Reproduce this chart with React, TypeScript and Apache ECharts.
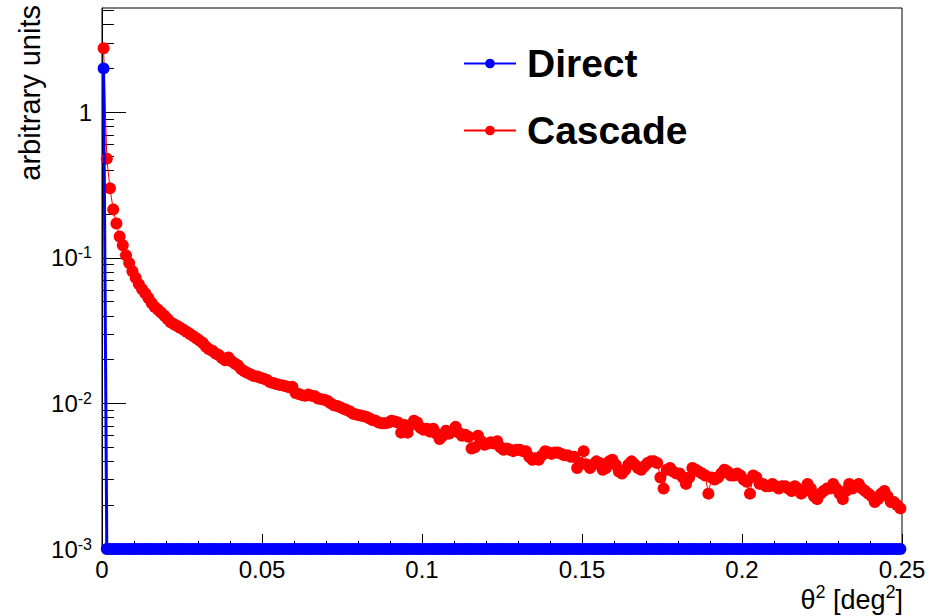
import React, { useEffect, useRef } from "react";
import * as echarts from "echarts";

// Histogram binning along theta^2 (deg^2)
const BIN_WIDTH = 0.001;
const N_BINS = 250;

// Per-bin contents (arbitrary units); empty bins sit on the axis floor 1e-3
const direct = [
  2.0, 0.001, 0.001, 0.001, 0.001, 0.001, 0.001, 0.001, 0.001, 0.001, 0.001, 0.001, 0.001, 0.001, 0.001, 0.001, 0.001, 0.001, 0.001, 0.001, 0.001, 0.001, 0.001, 0.001, 0.001,
  0.001, 0.001, 0.001, 0.001, 0.001, 0.001, 0.001, 0.001, 0.001, 0.001, 0.001, 0.001, 0.001, 0.001, 0.001, 0.001, 0.001, 0.001, 0.001, 0.001, 0.001, 0.001, 0.001, 0.001, 0.001,
  0.001, 0.001, 0.001, 0.001, 0.001, 0.001, 0.001, 0.001, 0.001, 0.001, 0.001, 0.001, 0.001, 0.001, 0.001, 0.001, 0.001, 0.001, 0.001, 0.001, 0.001, 0.001, 0.001, 0.001, 0.001,
  0.001, 0.001, 0.001, 0.001, 0.001, 0.001, 0.001, 0.001, 0.001, 0.001, 0.001, 0.001, 0.001, 0.001, 0.001, 0.001, 0.001, 0.001, 0.001, 0.001, 0.001, 0.001, 0.001, 0.001, 0.001,
  0.001, 0.001, 0.001, 0.001, 0.001, 0.001, 0.001, 0.001, 0.001, 0.001, 0.001, 0.001, 0.001, 0.001, 0.001, 0.001, 0.001, 0.001, 0.001, 0.001, 0.001, 0.001, 0.001, 0.001, 0.001,
  0.001, 0.001, 0.001, 0.001, 0.001, 0.001, 0.001, 0.001, 0.001, 0.001, 0.001, 0.001, 0.001, 0.001, 0.001, 0.001, 0.001, 0.001, 0.001, 0.001, 0.001, 0.001, 0.001, 0.001, 0.001,
  0.001, 0.001, 0.001, 0.001, 0.001, 0.001, 0.001, 0.001, 0.001, 0.001, 0.001, 0.001, 0.001, 0.001, 0.001, 0.001, 0.001, 0.001, 0.001, 0.001, 0.001, 0.001, 0.001, 0.001, 0.001,
  0.001, 0.001, 0.001, 0.001, 0.001, 0.001, 0.001, 0.001, 0.001, 0.001, 0.001, 0.001, 0.001, 0.001, 0.001, 0.001, 0.001, 0.001, 0.001, 0.001, 0.001, 0.001, 0.001, 0.001, 0.001,
  0.001, 0.001, 0.001, 0.001, 0.001, 0.001, 0.001, 0.001, 0.001, 0.001, 0.001, 0.001, 0.001, 0.001, 0.001, 0.001, 0.001, 0.001, 0.001, 0.001, 0.001, 0.001, 0.001, 0.001, 0.001,
  0.001, 0.001, 0.001, 0.001, 0.001, 0.001, 0.001, 0.001, 0.001, 0.001, 0.001, 0.001, 0.001, 0.001, 0.001, 0.001, 0.001, 0.001, 0.001, 0.001, 0.001, 0.001, 0.001, 0.001, 0.001,
];

const cascade = [
  2.75, 0.48, 0.30, 0.215, 0.172, 0.140, 0.122, 0.104, 0.092, 0.081,
  0.073, 0.066, 0.061, 0.057, 0.053, 0.049, 0.046, 0.044, 0.042, 0.040,
  0.038, 0.036, 0.035, 0.034, 0.033, 0.032, 0.031, 0.030, 0.029, 0.028,
  0.027, 0.026, 0.0245, 0.0235, 0.023, 0.022, 0.0215, 0.0205, 0.0198, 0.0207,
  0.0195, 0.0188, 0.0182, 0.0172, 0.0166, 0.0162, 0.0158, 0.0154, 0.0153, 0.0150,
  0.0148, 0.0145, 0.0140, 0.0138, 0.0136, 0.0134, 0.0133, 0.0131, 0.0129, 0.0130,
  0.0118, 0.0116, 0.0114, 0.0113, 0.0115, 0.0113, 0.0112, 0.0108, 0.0107, 0.0106,
  0.0104, 0.0100, 0.0097, 0.0096, 0.0094, 0.0092, 0.0090, 0.0088, 0.0085, 0.0084,
  0.0083, 0.0082, 0.0081, 0.0079, 0.0077, 0.0076, 0.0074, 0.0073, 0.0073, 0.0074,
  0.0076, 0.0075, 0.0074, 0.0063, 0.0071, 0.0063, 0.0071, 0.0076, 0.0074, 0.0068,
  0.0066, 0.0067, 0.0064, 0.0067, 0.0062, 0.0057, 0.0060, 0.0065, 0.0062, 0.0064,
  0.0069, 0.0063, 0.0060, 0.0061, 0.0059, 0.0049, 0.0050, 0.0060, 0.0055, 0.0052,
  0.0053, 0.0054, 0.0053, 0.0055, 0.0050, 0.0048, 0.0049, 0.0048, 0.0047, 0.0048,
  0.0048, 0.0047, 0.0047, 0.0043, 0.0041, 0.0042, 0.0041, 0.0044, 0.0047, 0.0046,
  0.0045, 0.0046, 0.0046, 0.0045, 0.0044, 0.0044, 0.0043, 0.0043, 0.0036, 0.0039,
  0.0047, 0.0038, 0.0036, 0.0038, 0.0040, 0.0039, 0.0035, 0.0036, 0.0040, 0.0041,
  0.0038, 0.0034, 0.0033, 0.0035, 0.0038, 0.0040, 0.0038, 0.0036, 0.0035, 0.0037,
  0.0039, 0.0040, 0.0040, 0.0039, 0.0031, 0.0026, 0.0035, 0.0036, 0.0034, 0.0033,
  0.0033, 0.0031, 0.0028, 0.0031, 0.0036, 0.0035, 0.0034, 0.0033, 0.0032, 0.0024,
  0.0031, 0.0030, 0.0031, 0.0033, 0.0035, 0.0034, 0.0032, 0.0032, 0.0033, 0.0032,
  0.0030, 0.0029, 0.0024, 0.0032, 0.0031, 0.0028, 0.0028, 0.0027, 0.0027, 0.0028,
  0.0027, 0.0026, 0.0027, 0.0027, 0.0026, 0.0025, 0.0027, 0.0026, 0.0024, 0.0025,
  0.0028, 0.0026, 0.0023, 0.0022, 0.0024, 0.0025, 0.0026, 0.0026, 0.0028, 0.0026,
  0.0024, 0.0022, 0.0025, 0.0028, 0.0026, 0.0027, 0.0028, 0.0026, 0.0025, 0.0024,
  0.0023, 0.0021, 0.0022, 0.0024, 0.0025, 0.0023, 0.0021, 0.0021, 0.0020, 0.0019,
];

// Axis ticks
const yDecades = [0.001, 0.01, 0.1, 1];
const yMinorTicks = [
  0.002, 0.003, 0.004, 0.005, 0.006, 0.007, 0.008, 0.009,
  0.02, 0.03, 0.04, 0.05, 0.06, 0.07, 0.08, 0.09,
  0.2, 0.3, 0.4, 0.5, 0.6, 0.7, 0.8, 0.9,
  2, 3, 4, 5,
];

const FONT = '"Liberation Sans", Arial, Helvetica, sans-serif';

const binCenter = (i: number) => +((i + 0.5) * BIN_WIDTH).toFixed(4);

export default function App() {
  const ref = useRef<HTMLDivElement>(null);

  useEffect(() => {
    document.body.style.margin = "0";
    if (!ref.current) return;
    const chart = echarts.init(ref.current, undefined, { renderer: "svg" });

    const directData = direct.slice(0, N_BINS).map((v, i) => [binCenter(i), v]);
    const cascadeData = cascade.slice(0, N_BINS).map((v, i) => [binCenter(i), v]);

    const yLog = {
      type: "log",
      logBase: 10,
      min: 0.001,
      max: 5.2,
      splitLine: { show: false },
    };

    chart.setOption({
      animation: false,
      backgroundColor: "#ffffff",
      textStyle: { fontFamily: FONT, color: "#000" },
      grid: {
        left: 102,
        right: 35,
        top: 8,
        bottom: 67,
        show: true,
        borderColor: "#000",
        borderWidth: 1,
        backgroundColor: "transparent",
      },
      legend: {
        orient: "vertical",
        left: 458,
        top: 39,
        itemWidth: 52,
        itemHeight: 12,
        itemGap: 28,
        data: ["Direct", "Cascade"],
        textStyle: {
          fontFamily: FONT,
          fontSize: 39,
          fontWeight: "bold",
          color: "#000",
          padding: [0, 0, 0, 6],
        },
      },
      xAxis: {
        type: "value",
        min: 0,
        max: 0.25,
        interval: 0.05,
        axisLine: { show: true, onZero: false, lineStyle: { color: "#000", width: 1 } },
        axisTick: { show: true, inside: true, length: 15, lineStyle: { color: "#000", width: 1 } },
        minorTick: { show: true, splitNumber: 5, length: 8, lineStyle: { color: "#000", width: 1 } },
        splitLine: { show: false },
        minorSplitLine: { show: false },
        axisLabel: {
          fontFamily: FONT,
          fontSize: 24,
          color: "#000",
          margin: 8,
          formatter: (v: number) => String(+v.toFixed(3)),
        },
      },
      yAxis: [
        {
          ...yLog,
          axisLine: { show: true, lineStyle: { color: "#000", width: 1 } },
          axisTick: {
            show: true,
            inside: true,
            length: 24,
            customValues: yDecades,
            lineStyle: { color: "#000", width: 1 },
          },
          axisLabel: {
            fontFamily: FONT,
            fontSize: 24,
            color: "#000",
            margin: 10,
            customValues: yDecades,
            formatter: (v: number) => {
              const e = Math.round(Math.log10(v));
              return e === 0 ? "1" : `10{sup|${e}}`;
            },
            rich: {
              sup: { fontFamily: FONT, fontSize: 16, color: "#000", verticalAlign: "top", lineHeight: 26 },
            },
          },
        },
        {
          ...yLog,
          position: "left",
          axisLine: { show: false },
          axisLabel: { show: false },
          axisTick: {
            show: true,
            inside: true,
            length: 12,
            customValues: yMinorTicks,
            lineStyle: { color: "#000", width: 1 },
          },
        },
      ],
      graphic: [
        {
          type: "text",
          x: 30,
          y: 5,
          rotation: Math.PI / 2,
          style: {
            text: "arbitrary units",
            fontFamily: FONT,
            fontSize: 29,
            fill: "#000",
            align: "right",
            verticalAlign: "middle",
          },
        },
        {
          type: "text",
          x: 903,
          y: 598,
          style: {
            text: "{t|θ}{s|2}{t| [deg}{s|2}{t|]}",
            align: "right",
            verticalAlign: "middle",
            fill: "#000",
            rich: {
              t: { fontFamily: FONT, fontSize: 27, fill: "#000", lineHeight: 30, verticalAlign: "bottom" },
              s: { fontFamily: FONT, fontSize: 18, fill: "#000", lineHeight: 30, verticalAlign: "top" },
            },
          },
        },
      ],
      series: [
        {
          name: "Cascade",
          type: "line",
          data: cascadeData,
          symbol: "circle",
          symbolSize: 12,
          showAllSymbol: true,
          clip: false,
          z: 2,
          lineStyle: { color: "#ff0000", width: 1 },
          itemStyle: { color: "#ff0000" },
        },
        {
          name: "Direct",
          type: "line",
          data: directData,
          symbol: "circle",
          symbolSize: 12,
          showAllSymbol: true,
          clip: false,
          z: 3,
          lineStyle: { color: "#0000ff", width: 3 },
          itemStyle: { color: "#0000ff" },
        },
      ],
    });

    return () => chart.dispose();
  }, []);

  return <div ref={ref} style={{ width: 937, height: 616 }} />;
}
